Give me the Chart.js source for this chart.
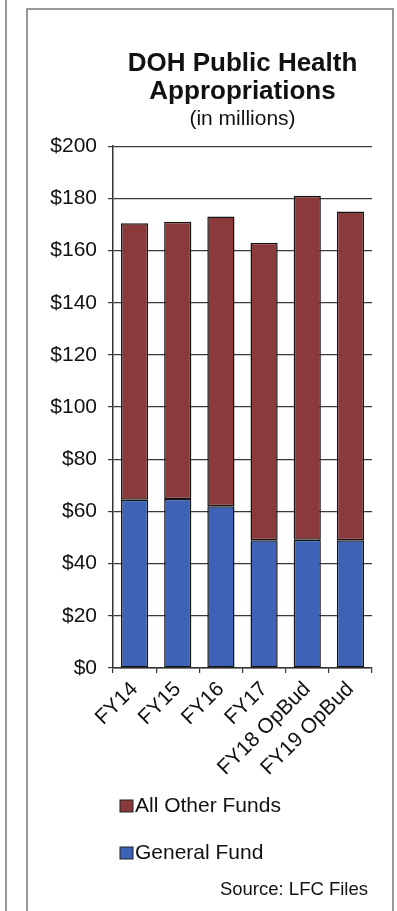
<!DOCTYPE html>
<html>
<head>
<meta charset="utf-8">
<script src="https://cdn.jsdelivr.net/npm/chart.js@4/dist/chart.umd.min.js"></script>
<style>
  html, body { margin: 0; padding: 0; background: #ffffff; }
  #wrap { position: relative; width: 397px; height: 911px; }
</style>
</head>
<body>
<div id="wrap"><canvas id="chart"></canvas></div>
<script>
// Fiscal years shown along the x axis
const categories = ['FY14', 'FY15', 'FY16', 'FY17', 'FY18 OpBud', 'FY19 OpBud'];
// Appropriations in millions of dollars, stacked per year
const generalFund   = [64.5, 64.8, 62.0, 49.0, 49.2, 49.0];
const allOtherFunds = [106.0, 106.2, 111.0, 114.0, 131.8, 126.0];
// Value axis ticks
const yTickValues = [0, 20, 40, 60, 80, 100, 120, 140, 160, 180, 200];
const yTickLabels = yTickValues.map(v => '$' + v);

const seriesNames = ['General Fund', 'All Other Funds'];
const seriesColors = ['#3d62b6', '#8b3a3c'];

const FONT = "'Liberation Sans', Arial, Helvetica, sans-serif";
const INK = '#111111';

// Page frame lines around the panel
const framePlugin = {
  id: 'frame',
  beforeDraw(chart) {
    const ctx = chart.ctx;
    ctx.save();
    ctx.strokeStyle = '#777777';
    ctx.lineWidth = 1.5;
    ctx.beginPath();
    ctx.moveTo(6, 0); ctx.lineTo(6, chart.height);
    ctx.moveTo(27, chart.height); ctx.lineTo(27, 9); ctx.lineTo(393, 9); ctx.lineTo(393, chart.height);
    ctx.stroke();
    ctx.restore();
  }
};

// Vertical legend (top series first) and source note below the axis labels
const legendPlugin = {
  id: 'stackLegend',
  afterDraw(chart) {
    const ctx = chart.ctx;
    const items = chart.data.datasets.map((ds, i) => ({ text: ds.label, color: ds.backgroundColor })).reverse();
    ctx.save();
    ctx.font = '21px ' + FONT;
    ctx.textBaseline = 'alphabetic';
    ctx.textAlign = 'left';
    let y = chart.chartArea.bottom + 144;
    items.forEach(it => {
      ctx.fillStyle = it.color;
      ctx.fillRect(120, y - 12, 13, 12);
      ctx.strokeStyle = '#222222';
      ctx.lineWidth = 1;
      ctx.strokeRect(120, y - 12, 13, 12);
      ctx.fillStyle = INK;
      ctx.fillText(it.text, 135, y);
      y += 47;
    });
    ctx.font = '18.5px ' + FONT;
    ctx.textAlign = 'right';
    ctx.fillText('Source: LFC Files', 368, chart.chartArea.bottom + 227);
    ctx.restore();
  }
};

new Chart(document.getElementById('chart'), {
  type: 'bar',
  data: {
    labels: categories,
    datasets: [
      {
        label: seriesNames[0],
        data: generalFund,
        backgroundColor: seriesColors[0],
        borderColor: '#141414',
        borderWidth: 1.5,
        borderSkipped: false
      },
      {
        label: seriesNames[1],
        data: allOtherFunds,
        backgroundColor: seriesColors[1],
        borderColor: '#141414',
        borderWidth: 1.5,
        borderSkipped: false
      }
    ]
  },
  options: {
    responsive: true,
    maintainAspectRatio: false,
    animation: false,
    devicePixelRatio: 1,
    layout: { padding: { left: 0, right: 25, top: 0, bottom: 103 } },
    datasets: { bar: { categoryPercentage: 1.0, barPercentage: 0.63 } },
    plugins: {
      legend: { display: false },
      tooltip: { enabled: false },
      title: {
        display: true,
        fullSize: false,
        text: ['DOH Public Health', 'Appropriations'],
        color: INK,
        font: { family: FONT, size: 26, weight: 'bold', lineHeight: 1.08 },
        padding: { top: 50, bottom: 0 },
        align: 'center'
      },
      subtitle: {
        display: true,
        fullSize: false,
        text: '(in millions)',
        color: INK,
        font: { family: FONT, size: 21, lineHeight: 1.0 },
        padding: { top: 3, bottom: 16 }
      }
    },
    scales: {
      x: {
        stacked: true,
        offset: true,
        grid: {
          display: true,
          drawOnChartArea: false,
          drawTicks: true,
          tickLength: 5,
          offset: true,
          color: '#333333',
          lineWidth: 1.2
        },
        border: { display: true, color: '#333333', width: 1.5 },
        ticks: {
          color: INK,
          font: { family: FONT, size: 21 },
          maxRotation: 45,
          minRotation: 45,
          autoSkip: false,
          padding: 4
        },
        afterFit(scale) { scale.height = 140; }
      },
      y: {
        stacked: true,
        min: 0,
        max: 200,
        afterBuildTicks(scale) { scale.ticks = yTickValues.map(v => ({ value: v })); },
        grid: {
          color: '#3a3a3a',
          lineWidth: 1.2,
          tickLength: 5,
          drawTicks: true
        },
        border: { display: true, color: '#333333', width: 1.5 },
        ticks: {
          color: INK,
          font: { family: FONT, size: 21 },
          padding: 11,
          callback: (v) => yTickLabels[yTickValues.indexOf(v)]
        },
        afterFit(scale) { scale.width = 113; }
      }
    }
  },
  plugins: [framePlugin, legendPlugin]
});
</script>
</body>
</html>
